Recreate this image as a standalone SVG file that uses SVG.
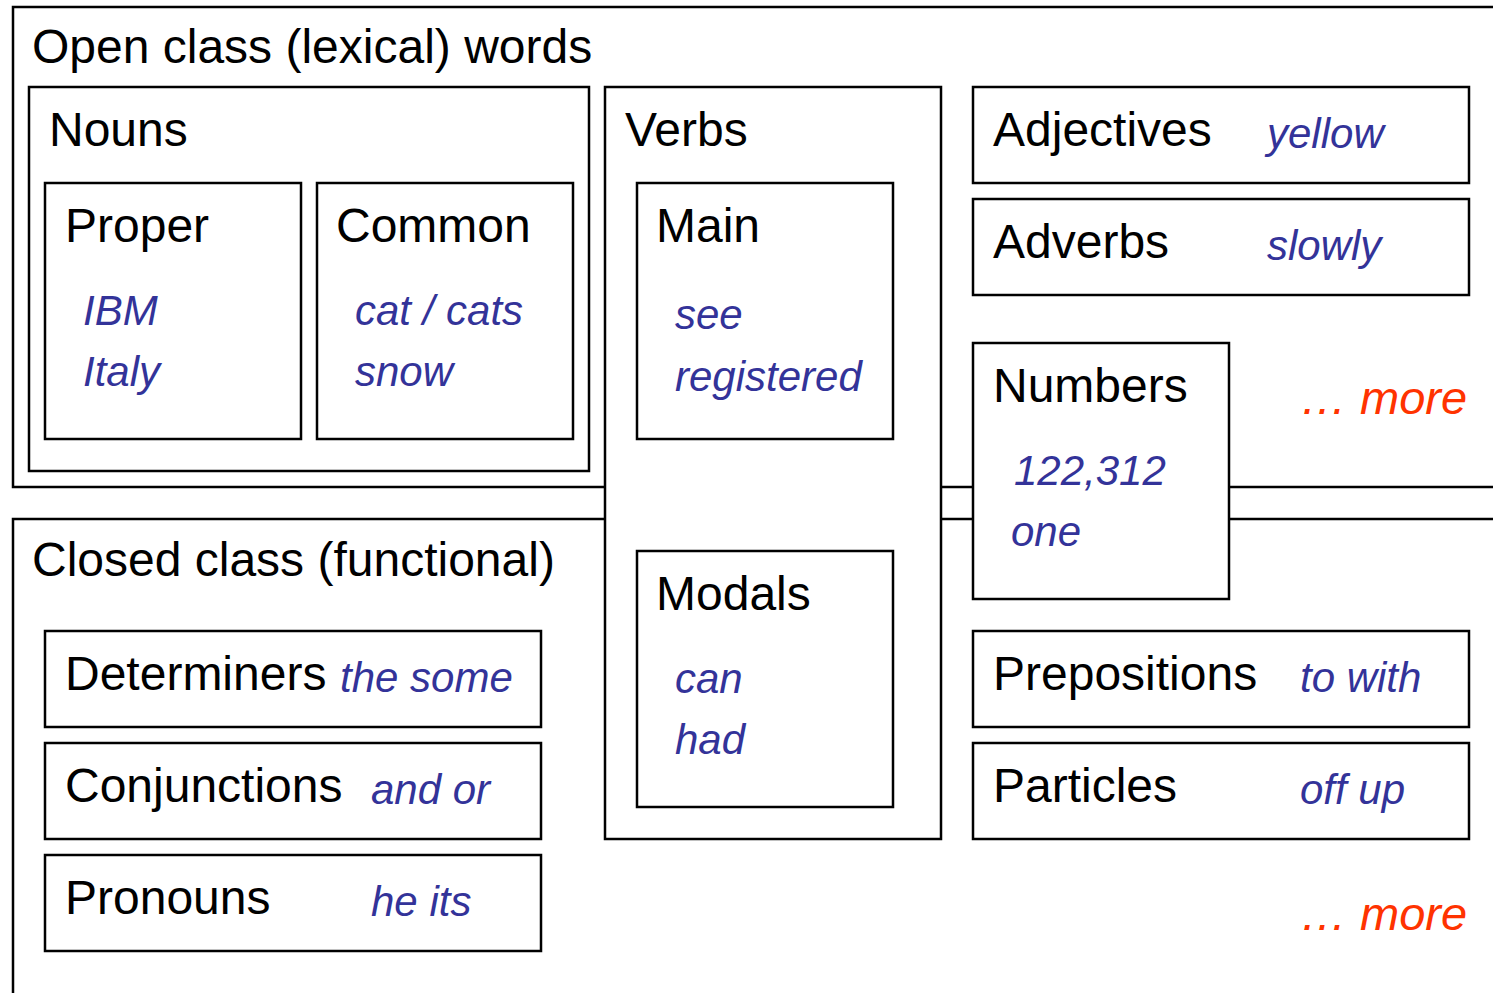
<svg xmlns="http://www.w3.org/2000/svg" width="1493" height="993" viewBox="0 0 1493 993">
<style>
.b{fill:#fff;stroke:#000;stroke-width:2.5}
.o{fill:none;stroke:#000;stroke-width:2.5}
.t{font-family:"Liberation Sans",Arial,sans-serif;font-size:48px;fill:#000}
.e{font-family:"Liberation Sans",Arial,sans-serif;font-size:42px;font-style:italic;fill:#333399}
.m{font-family:"Liberation Sans",Arial,sans-serif;font-size:47px;font-style:italic;fill:#ff3300}
</style>
<rect width="1493" height="993" fill="#fff"/>
<g id="open-class">
<rect class="o" x="13" y="7" width="1500" height="480"/>
<text class="t" x="32" y="63">Open class (lexical) words</text>
</g>
<g id="closed-class">
<rect class="o" x="13" y="519" width="1500" height="500"/>
<text class="t" x="32" y="576">Closed class (functional)</text>
</g>
<g id="nouns">
<rect class="b" x="29" y="87" width="560" height="384"/>
<text class="t" x="49" y="146">Nouns</text>
</g>
<g id="proper">
<rect class="b" x="45" y="183" width="256" height="256"/>
<text class="t" x="65" y="242">Proper</text>
<text class="e" x="83" y="325">IBM</text>
<text class="e" x="83" y="386">Italy</text>
</g>
<g id="common">
<rect class="b" x="317" y="183" width="256" height="256"/>
<text class="t" x="336" y="242">Common</text>
<text class="e" x="355" y="325">cat / cats</text>
<text class="e" x="355" y="386">snow</text>
</g>
<g id="verbs">
<rect class="b" x="605" y="87" width="336" height="752"/>
<text class="t" x="625" y="146">Verbs</text>
</g>
<g id="main">
<rect class="b" x="637" y="183" width="256" height="256"/>
<text class="t" x="656" y="242">Main</text>
<text class="e" x="675" y="329">see</text>
<text class="e" x="675" y="391">registered</text>
</g>
<g id="modals">
<rect class="b" x="637" y="551" width="256" height="256"/>
<text class="t" x="656" y="610">Modals</text>
<text class="e" x="675" y="693">can</text>
<text class="e" x="675" y="754">had</text>
</g>
<g id="adjectives">
<rect class="b" x="973" y="87" width="496" height="96"/>
<text class="t" x="993" y="146">Adjectives</text>
<text class="e" x="1267" y="148">yellow</text>
</g>
<g id="adverbs">
<rect class="b" x="973" y="199" width="496" height="96"/>
<text class="t" x="993" y="258">Adverbs</text>
<text class="e" x="1267" y="260">slowly</text>
</g>
<g id="numbers">
<rect class="b" x="973" y="343" width="256" height="256"/>
<text class="t" x="993" y="402">Numbers</text>
<text class="e" x="1014" y="485">122,312</text>
<text class="e" x="1011" y="546">one</text>
</g>
<g id="more-open">
<text class="m" x="1300" y="414">… more</text>
</g>
<g id="determiners">
<rect class="b" x="45" y="631" width="496" height="96"/>
<text class="t" x="65" y="690">Determiners</text>
<text class="e" x="340" y="692">the some</text>
</g>
<g id="conjunctions">
<rect class="b" x="45" y="743" width="496" height="96"/>
<text class="t" x="65" y="802">Conjunctions</text>
<text class="e" x="371" y="804">and or</text>
</g>
<g id="pronouns">
<rect class="b" x="45" y="855" width="496" height="96"/>
<text class="t" x="65" y="914">Pronouns</text>
<text class="e" x="371" y="916">he its</text>
</g>
<g id="prepositions">
<rect class="b" x="973" y="631" width="496" height="96"/>
<text class="t" x="993" y="690">Prepositions</text>
<text class="e" x="1300" y="692">to with</text>
</g>
<g id="particles">
<rect class="b" x="973" y="743" width="496" height="96"/>
<text class="t" x="993" y="802">Particles</text>
<text class="e" x="1300" y="804">off up</text>
</g>
<g id="more-closed">
<text class="m" x="1300" y="930">… more</text>
</g>
<g id="connectors"/>
</svg>
